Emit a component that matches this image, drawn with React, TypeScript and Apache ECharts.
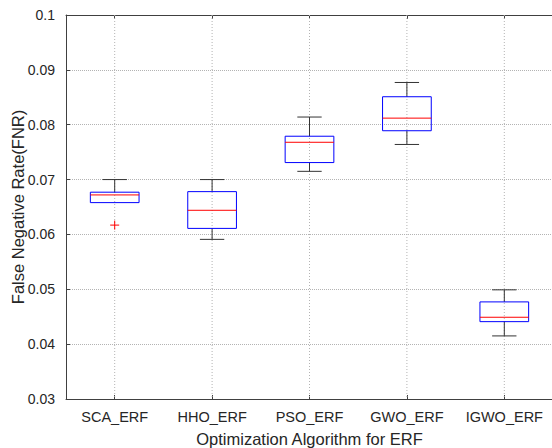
import React, { useEffect, useRef } from "react";
import * as echarts from "echarts";

const categories = ["SCA_ERF", "HHO_ERF", "PSO_ERF", "GWO_ERF", "IGWO_ERF"];
const lowerWhisker = [0.0658, 0.0591, 0.0715, 0.0764, 0.0415];
const q1 = [0.0658, 0.0611, 0.0731, 0.0789, 0.0441];
const medianVals = [0.0672, 0.0644, 0.0768, 0.0812, 0.0449];
const q3 = [0.0677, 0.0678, 0.0779, 0.0851, 0.0477];
const upperWhisker = [0.07, 0.07, 0.0814, 0.0877, 0.0499];
const outliers: [number, number][] = [[0, 0.0617]];
const yTicks = [0.03, 0.04, 0.05, 0.06, 0.07, 0.08, 0.09, 0.1];

const FONT = "Liberation Sans, Arial, sans-serif";

export default function App() {
  const ref = useRef<HTMLDivElement>(null);
  useEffect(() => {
    if (!ref.current) return;
    const chart = echarts.init(ref.current, undefined, { renderer: "svg" });
    const boxData = categories.map((c, i) => [
      i,
      lowerWhisker[i],
      q1[i],
      medianVals[i],
      q3[i],
      upperWhisker[i],
    ]);
    const option: any = {
      animation: false,
      backgroundColor: "#ffffff",
      grid: { left: 66, right: -1, top: 15, bottom: 49, containLabel: false, outerBoundsMode: "none" },
      xAxis: [
        {
          type: "category",
          data: categories,
          position: "bottom",
          name: "Optimization Algorithm for ERF",
          nameLocation: "middle",
          nameGap: 31,
          nameMoveOverlap: false,
          nameTextStyle: { fontFamily: FONT, fontSize: 16.5, color: "#262626" },
          axisLine: { show: true, lineStyle: { color: "#404040", width: 1 } },
          axisTick: { show: true, inside: true, alignWithLabel: true, length: 4, lineStyle: { color: "#404040" } },
          axisLabel: { interval: 0, fontFamily: FONT, fontSize: 14.5, color: "#262626", margin: 10 },
          splitLine: { show: false },
        },
        {
          type: "category",
          data: categories,
          position: "top",
          axisLine: { show: true, lineStyle: { color: "#404040", width: 1 } },
          axisTick: { show: true, inside: true, alignWithLabel: true, length: 4, lineStyle: { color: "#404040" } },
          axisLabel: { show: false },
          splitLine: { show: false },
        },
      ],
      yAxis: {
        type: "value",
        min: 0.03,
        max: 0.1,
        interval: 0.01,
        name: "False Negative Rate(FNR)",
        nameLocation: "middle",
        nameGap: 40,
        nameMoveOverlap: false,
        nameRotate: 90,
        nameTextStyle: { fontFamily: FONT, fontSize: 16.5, color: "#262626" },
        axisLine: { show: true, lineStyle: { color: "#404040", width: 1 } },
        axisTick: { show: true, inside: true, length: 4, lineStyle: { color: "#404040" } },
        axisLabel: {
          fontFamily: FONT,
          fontSize: 14,
          color: "#262626",
          margin: 11,
          formatter: (v: number) => {
            const t = yTicks.find((y) => Math.abs(y - v) < 1e-9);
            return String(parseFloat((t ?? v).toFixed(2)));
          },
        },
        splitLine: { show: true, lineStyle: { type: "dotted", color: "#b3b3b3", width: 1 } },
      },
      series: [
        {
          type: "custom",
          xAxisIndex: 0,
          data: boxData,
          encode: { x: 0, y: [1, 2, 3, 4, 5] },
          z: 3,
          renderItem: (params: any, api: any) => {
            const idx = api.value(0);
            const band = api.size([1, 0])[0];
            const lw = api.coord([idx, api.value(1)]);
            const b1 = api.coord([idx, api.value(2)]);
            const md = api.coord([idx, api.value(3)]);
            const b3 = api.coord([idx, api.value(4)]);
            const uw = api.coord([idx, api.value(5)]);
            const top = api.coord([idx, 0.1]);
            const bot = api.coord([idx, 0.03]);
            const cx = lw[0];
            const bw = band * 0.25;
            const cw = band * 0.125;
            const children: any[] = [
              {
                type: "line",
                shape: { x1: cx, y1: top[1], x2: cx, y2: bot[1] },
                style: { stroke: "#b3b3b3", lineWidth: 1, lineDash: [1, 2] },
              },
              {
                type: "line",
                shape: { x1: cx, y1: uw[1], x2: cx, y2: b3[1] },
                style: { stroke: "#333333", lineWidth: 1 },
              },
              {
                type: "line",
                shape: { x1: cx - cw, y1: uw[1], x2: cx + cw, y2: uw[1] },
                style: { stroke: "#333333", lineWidth: 1 },
              },
            ];
            if (Math.abs(api.value(1) - api.value(2)) > 1e-9) {
              children.push(
                {
                  type: "line",
                  shape: { x1: cx, y1: b1[1], x2: cx, y2: lw[1] },
                  style: { stroke: "#333333", lineWidth: 1 },
                },
                {
                  type: "line",
                  shape: { x1: cx - cw, y1: lw[1], x2: cx + cw, y2: lw[1] },
                  style: { stroke: "#333333", lineWidth: 1 },
                }
              );
            }
            children.push(
              {
                type: "rect",
                shape: { x: cx - bw, y: b3[1], width: bw * 2, height: b1[1] - b3[1] },
                style: { fill: "none", stroke: "#0000ff", lineWidth: 1 },
              },
              {
                type: "line",
                shape: { x1: cx - bw, y1: md[1], x2: cx + bw, y2: md[1] },
                style: { stroke: "#ff0000", lineWidth: 1 },
              }
            );
            return { type: "group", children };
          },
        },
        {
          type: "custom",
          xAxisIndex: 0,
          data: outliers,
          encode: { x: 0, y: 1 },
          z: 4,
          renderItem: (params: any, api: any) => {
            const p = api.coord([api.value(0), api.value(1)]);
            const s = 4.5;
            return {
              type: "group",
              children: [
                {
                  type: "line",
                  shape: { x1: p[0] - s, y1: p[1], x2: p[0] + s, y2: p[1] },
                  style: { stroke: "#ff0000", lineWidth: 1 },
                },
                {
                  type: "line",
                  shape: { x1: p[0], y1: p[1] - s, x2: p[0], y2: p[1] + s },
                  style: { stroke: "#ff0000", lineWidth: 1 },
                },
              ],
            };
          },
        },
      ],
    };
    chart.setOption(option);
    return () => chart.dispose();
  }, []);
  return (
    <div
      ref={ref}
      style={{ position: "fixed", left: 0, top: 0, width: 552, height: 448 }}
    />
  );
}
